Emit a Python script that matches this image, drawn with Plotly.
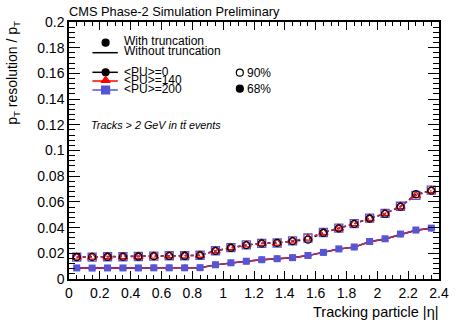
import plotly.graph_objects as go

# ---------------- data ----------------
eta = [0.05, 0.15, 0.25, 0.35, 0.45, 0.55, 0.65, 0.75, 0.85, 0.95, 1.05, 1.15,
       1.25, 1.35, 1.45, 1.55, 1.65, 1.75, 1.85, 1.95, 2.05, 2.15, 2.25, 2.35]

res90_pu0 = [0.0171, 0.0172, 0.0173, 0.0174, 0.0175, 0.0178, 0.0180, 0.0181, 0.0184, 0.0219, 0.0243, 0.0264,
             0.0277, 0.0281, 0.0295, 0.0306, 0.0360, 0.0394, 0.0429, 0.0471, 0.0508, 0.0563, 0.0660, 0.0688]
res90_pu140 = [0.0170, 0.0171, 0.0173, 0.0173, 0.0175, 0.0178, 0.0181, 0.0180, 0.0185, 0.0220, 0.0243, 0.0265,
               0.0278, 0.0279, 0.0296, 0.0318, 0.0362, 0.0395, 0.0430, 0.0472, 0.0510, 0.0565, 0.0650, 0.0690]
res90_pu200 = [0.0171, 0.0171, 0.0173, 0.0173, 0.0175, 0.0178, 0.0181, 0.0181, 0.0185, 0.0220, 0.0244, 0.0265,
               0.0278, 0.0280, 0.0296, 0.0319, 0.0362, 0.0396, 0.0431, 0.0474, 0.0511, 0.0566, 0.0651, 0.0691]

res68_pu0 = [0.0086, 0.0085, 0.0086, 0.0086, 0.0086, 0.0087, 0.0087, 0.0087, 0.0088, 0.0110, 0.0126, 0.0138,
             0.0150, 0.0157, 0.0166, 0.0182, 0.0206, 0.0233, 0.0248, 0.0290, 0.0312, 0.0348, 0.0380, 0.0395]
res68_pu140 = [0.0086, 0.0085, 0.0086, 0.0086, 0.0086, 0.0087, 0.0087, 0.0087, 0.0088, 0.0110, 0.0126, 0.0138,
               0.0150, 0.0157, 0.0166, 0.0182, 0.0206, 0.0233, 0.0248, 0.0290, 0.0312, 0.0348, 0.0380, 0.0395]
res68_pu200 = [0.0086, 0.0085, 0.0086, 0.0086, 0.0086, 0.0087, 0.0087, 0.0087, 0.0088, 0.0111, 0.0126, 0.0138,
               0.0150, 0.0158, 0.0166, 0.0183, 0.0207, 0.0234, 0.0249, 0.0292, 0.0313, 0.0350, 0.0381, 0.0396]

x_ticks = [0, 0.2, 0.4, 0.6, 0.8, 1, 1.2, 1.4, 1.6, 1.8, 2, 2.2, 2.4]
y_ticks = [0, 0.02, 0.04, 0.06, 0.08, 0.1, 0.12, 0.14, 0.16, 0.18, 0.2]

pu_labels = ["&lt;PU&gt;=0", "&lt;PU&gt;=140", "&lt;PU&gt;=200"]

# ---------------- styles ----------------
BLACK = "#000000"
RED = "#ff0000"
BLUE = "rgb(85,85,215)"
BLUE_LINE = "rgba(85,85,215,0.55)"
FONT = "Liberation Sans, Arial, Helvetica, sans-serif"

W, H = 461, 327
L, R, T, B = 69, 13, 22, 48
PW, PH = W - L - R, H - T - B


def pxx(x):
    """screen pixel x -> paper coordinate"""
    return (x - L) / PW


def pxy(y):
    """screen pixel y -> paper coordinate"""
    return (H - B - y) / PH


fig = go.Figure()

series = [
    (res90_pu0, res68_pu0, BLACK, BLACK, "circle", 6),
    (res90_pu140, res68_pu140, RED, RED, "triangle-up", 7),
    (res90_pu200, res68_pu200, BLUE, BLUE_LINE, "square", 7),
]

# lines first
for r90, r68, col, lcol, sym, sz in series:
    fig.add_trace(go.Scatter(x=eta, y=r90, mode="lines",
                             line=dict(color=lcol, width=1.5, dash="dot"),
                             showlegend=False, hoverinfo="skip"))
    fig.add_trace(go.Scatter(x=eta, y=r68, mode="lines",
                             line=dict(color=lcol, width=1.5),
                             showlegend=False, hoverinfo="skip"))

# 90% open markers
for r90, r68, col, lcol, sym, sz in reversed(series):
    fig.add_trace(go.Scatter(x=eta, y=r90, mode="markers",
                             marker=dict(symbol=sym + "-open", size=sz + 1, color=col,
                                         line=dict(width=1.3, color=col)),
                             showlegend=False))
# 68% filled markers
for r90, r68, col, lcol, sym, sz in series:
    fig.add_trace(go.Scatter(x=eta, y=r68, mode="markers",
                             marker=dict(symbol=sym, size=sz, color=col,
                                         line=dict(width=0)),
                             showlegend=False))

# ---------------- legend glyphs on an overlay axis in paper units ----------------
leg_lines = [
    ((93, 119), 52.7, BLACK),
    ((93, 119), 72.3, BLACK),
    ((93, 119), 81.0, RED),
    ((93, 119), 90.0, BLUE),
]
for (xa, xb), yy, col in leg_lines:
    fig.add_trace(go.Scatter(x=[pxx(xa), pxx(xb)], y=[pxy(yy), pxy(yy)], mode="lines",
                             xaxis="x2", yaxis="y2",
                             line=dict(color=col, width=1.5), showlegend=False, hoverinfo="skip"))

leg_markers = [
    (106.5, 42.7, "circle", BLACK, 7),
    (106.5, 72.3, "circle", BLACK, 7),
    (106.5, 80.5, "triangle-up", RED, 8),
    (106.5, 90.0, "square", BLUE, 8),
    (244, 72.7, "circle-open", BLACK, 7),
    (244, 88.7, "circle", BLACK, 7),
]
for xx, yy, sym, col, sz in leg_markers:
    fig.add_trace(go.Scatter(x=[pxx(xx)], y=[pxy(yy)], mode="markers", xaxis="x2", yaxis="y2",
                             marker=dict(symbol=sym, size=sz, color=col, line=dict(width=1.2, color=col)),
                             showlegend=False, hoverinfo="skip"))


def ann(x, y, text, size, xanchor="left", angle=0):
    return dict(x=pxx(x), y=pxy(y), xref="paper", yref="paper", text=text, showarrow=False,
                xanchor=xanchor, yanchor="middle", borderpad=0, textangle=angle,
                font=dict(family=FONT, size=size, color="black"))


annotations = []
leg_texts = [
    (124, 41.0, "With truncation"),
    (124, 50.5, "Without truncation"),
    (124, 71.5, pu_labels[0]),
    (124, 80.3, pu_labels[1]),
    (124, 89.3, pu_labels[2]),
    (250, 72.7, "90%"),
    (250, 88.7, "68%"),
]
for xx, yy, txt in leg_texts:
    annotations.append(ann(xx, yy, txt, 12))

annotations.append(ann(90, 125, "<i>Tracks &gt; 2 GeV in t\u0074\u0304 events</i>", 10.8))
annotations.append(ann(68, 11.5, "CMS Phase-2 Simulation Preliminary", 12.8))
annotations.append(ann(448, 312, "Tracking particle |\u03b7|", 14.5, xanchor="right"))
annotations.append(ann(11.5, 73, "p<sub>T</sub> resolution / p<sub>T</sub>", 14, xanchor="center", angle=-90))

axis_common = dict(showgrid=False, zeroline=False, showline=True, linecolor="black", linewidth=1.5,
                   mirror="ticks", ticks="inside", tickcolor="black", tickwidth=1,
                   tickfont=dict(family=FONT, size=14, color="black"))

fig.update_layout(
    width=W, height=H,
    margin=dict(l=L, r=R, t=T, b=B, pad=0),
    paper_bgcolor="white", plot_bgcolor="white",
    showlegend=False,
    xaxis=dict(range=[0, 2.4], tickvals=x_ticks, ticklen=8,
               minor=dict(dtick=0.05, ticklen=4, ticks="inside", tickcolor="black", tickwidth=1),
               **axis_common),
    yaxis=dict(range=[0, 0.2], tickvals=y_ticks, ticklen=11,
               minor=dict(dtick=0.004, ticklen=6, ticks="inside", tickcolor="black", tickwidth=1),
               **axis_common),
    xaxis2=dict(range=[0, 1], overlaying="x", visible=False, fixedrange=True),
    yaxis2=dict(range=[0, 1], overlaying="y", visible=False, fixedrange=True),
    annotations=annotations,
)

fig.write_html("out.html", config={"displayModeBar": False},
               post_script="document.body.style.margin='0';")
